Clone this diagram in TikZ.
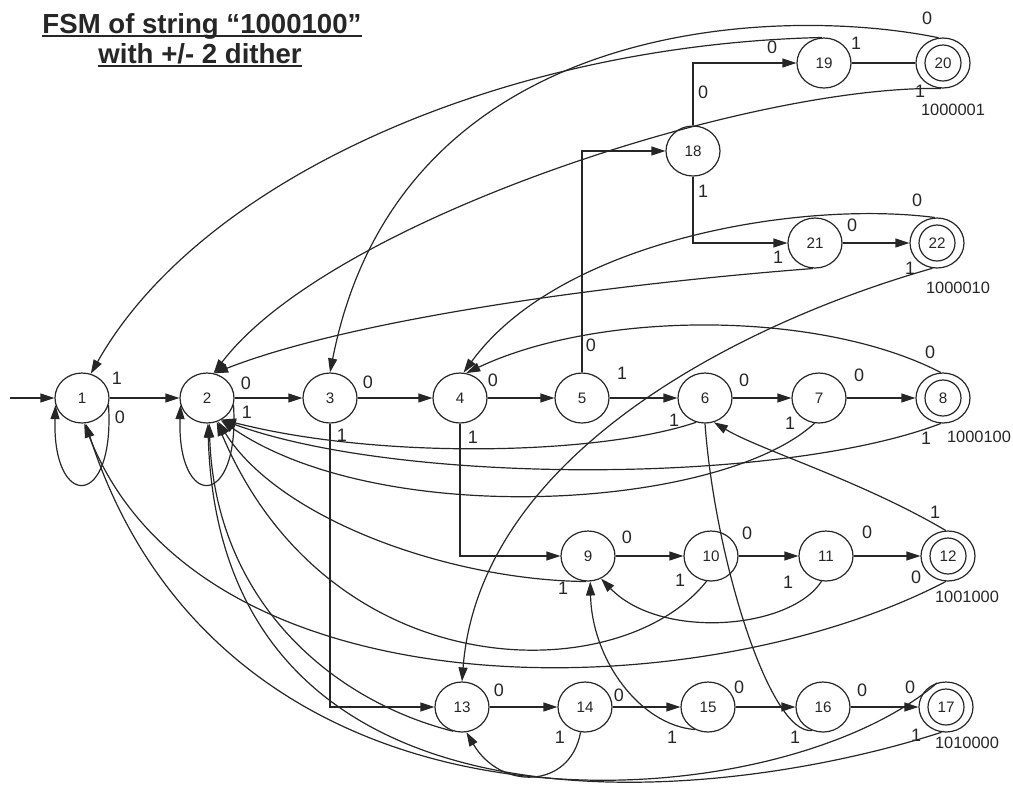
\documentclass[tikz,border=0pt]{standalone}
\usepackage{fontspec}
\setmainfont{Liberation Sans}
\usetikzlibrary{shapes.geometric,arrows.meta}
\definecolor{ink}{HTML}{262626}
\newcommand{\statefont}{\fontsize{7.6}{9}\selectfont}
\newcommand{\edgefont}{\fontsize{9}{11}\selectfont}
\newcommand{\wordfont}{\fontsize{8.2}{10}\selectfont}
\begin{document}
\begin{tikzpicture}[x=0.5pt,y=-0.5pt,line width=0.6pt,color=ink,
  st/.style={draw,ellipse,minimum width=27pt,minimum height=25pt,inner sep=0pt,font=\statefont},
  arr/.style={-{Triangle[length=7pt,width=4.5pt]}},
  lbl/.style={inner sep=0pt,font=\edgefont},
  word/.style={inner sep=0pt,font=\wordfont},
  ttl/.style={inner sep=0pt,font=\bfseries\fontsize{13.8}{16}\selectfont}]
\useasboundingbox (0,0) rectangle (1013,784);

% title
\node[ttl,anchor=base] (t1) at (202,33) {FSM of string “1000100”};
\node[ttl,anchor=base] (t2) at (200,63) {with +/- 2 dither};
\draw[line width=1pt] ([yshift=-1.6pt]t1.base west) -- ([yshift=-1.6pt]t1.base east);
\draw[line width=1pt] ([yshift=-1.6pt]t2.base west) -- ([yshift=-1.6pt]t2.base east);

% states
\node[st] (n1) at (82,398) {1};
\node[st] (n2) at (207,398) {2};
\node[st] (n3) at (330,398) {3};
\node[st] (n4) at (460,398) {4};
\node[st] (n5) at (582,398) {5};
\node[st] (n6) at (705,398) {6};
\node[st] (n7) at (819,398) {7};
\node[st] (n8) at (943,398) {8};
\node[st] (n9) at (588,556) {9};
\node[st] (n10) at (711,556) {10};
\node[st] (n11) at (826,556) {11};
\node[st] (n12) at (948,556) {12};
\node[st] (n13) at (462,707) {13};
\node[st] (n14) at (585,707) {14};
\node[st] (n15) at (708,707) {15};
\node[st] (n16) at (823,707) {16};
\node[st] (n17) at (946,707) {17};
\node[st] (n18) at (693,151) {18};
\node[st] (n19) at (824,63) {19};
\node[st] (n20) at (943,63) {20};
\node[st] (n21) at (815,243) {21};
\node[st] (n22) at (937,243) {22};
% inner rings of the accepting states
\foreach \n in {n8,n12,n17,n20,n22} \draw (\n) circle[radius=9pt];

% start arrow
\coordinate (s0) at (10,398);
\draw[arr] (s0) -- (n1);

% main chain
\draw[arr] (n1) -- (n2);
\draw[arr] (n2) -- (n3);
\draw[arr] (n3) -- (n4);
\draw[arr] (n4) -- (n5);
\draw[arr] (n5) -- (n6);
\draw[arr] (n6) -- (n7);
\draw[arr] (n7) -- (n8);
\draw[arr] (n9) -- (n10);
\draw[arr] (n10) -- (n11);
\draw[arr] (n11) -- (n12);
\draw[arr] (n13) -- (n14);
\draw[arr] (n14) -- (n15);
\draw[arr] (n15) -- (n16);
\draw[arr] (n16) -- (n17);
\draw[arr] (n21) -- (n22);
\draw (n19) -- (n20);

% branches
\draw[arr] (n3.south) |- (n13.west);
\draw[arr] (n4.south) |- (n9.west);
\draw[arr] (n5.north) |- (n18.west);
\draw[arr] (n18.north) |- (n19.west);
\draw[arr] (n18.south) |- (n21.west);

% self loops
\draw[arr] (n1.-15) .. controls (115,510) and (52,510) .. (n1.195);
\draw[arr] (n2.-15) .. controls (240,510) and (177,510) .. (n2.195);

% back edges from the upper branch
\draw[arr] (n19.95) .. controls (500,45) and (200,180) .. (n1.70);
\draw[arr] (n20.100) .. controls (780,5) and (400,15) .. (n3.90);
\draw[arr] (n20.-95) .. controls (750,85) and (330,220) .. (n2.75);
\draw[arr] (n22.95) .. controls (800,200) and (560,240) .. (n4.82);
\draw[arr] (n21.-95) .. controls (600,285) and (350,320) .. (n2.74);
\draw[arr] (n22.-100) .. controls (750,320) and (480,450) .. (n13.90);

% back edges from the main row
\draw[arr] (n8.95) .. controls (820,310) and (600,310) .. (n4.76);
\draw[arr] (n6.-110) .. controls (600,455) and (380,460) .. (n2.-55);
\draw[arr] (n7.-100) .. controls (720,510) and (380,530) .. (n2.-58);
\draw[arr] (n8.-95) .. controls (780,485) and (400,485) .. (n2.-56);

% back edges from the middle and lower rows
\draw[arr] (n12.95) .. controls (860,480) and (760,450) .. (n6.-70);
\draw (n16.-115) .. controls (770,735) and (715,560) .. (n6.-90);
\draw[arr] (n9.-95) .. controls (450,580) and (280,520) .. (n2.-65);
\draw[arr] (n10.-100) .. controls (620,690) and (330,690) .. (n2.-68);
\draw[arr] (n11.-100) .. controls (790,630) and (660,640) .. (n9.-60);
\draw[arr] (n15.-120) .. controls (640,725) and (592,660) .. (n9.-85);
\draw[arr] (n14.-100) .. controls (570,790) and (500,790) .. (n13.-80);
\draw[arr] (n12.-95) .. controls (700,710) and (200,720) .. (n1.-85);
\draw[arr] (n13.-110) .. controls (330,700) and (215,600) .. (n2.-85);
\draw[arr] (n17.110) .. controls (780,820) and (230,870) .. (n1.-82);
\draw[arr] (n17.-100) .. controls (700,810) and (220,850) .. (n2.-88);

% transition labels
\node[lbl] (a1) at (117,378) {1};
\node[lbl] (a2) at (120,417) {0};
\node[lbl] (a3) at (246,383) {0};
\node[lbl] (a4) at (247,412) {1};
\node[lbl] (a5) at (368,382) {0};
\node[lbl] (a6) at (493,380) {0};
\node[lbl] (a7) at (342,435) {1};
\node[lbl] (a8) at (473,437) {1};
\node[lbl] (a9) at (591,345) {0};
\node[lbl] (a10) at (622,373) {1};
\node[lbl] (a11) at (744,380) {0};
\node[lbl] (a12) at (859,375) {0};
\node[lbl] (a13) at (930,352) {0};
\node[lbl] (a14) at (674,420) {1};
\node[lbl] (a15) at (790,423) {1};
\node[lbl] (a16) at (926,438) {1};
\node[lbl] (a17) at (627,537) {0};
\node[lbl] (a18) at (747,533) {0};
\node[lbl] (a19) at (867,532) {0};
\node[lbl] (a20) at (680,580) {1};
\node[lbl] (a21) at (788,582) {1};
\node[lbl] (a22) at (563,588) {1};
\node[lbl] (a23) at (935,512) {1};
\node[lbl] (a24) at (916,577) {0};
\node[lbl] (a25) at (499,690) {0};
\node[lbl] (a26) at (619,695) {0};
\node[lbl] (a27) at (739,687) {0};
\node[lbl] (a28) at (862,690) {0};
\node[lbl] (a29) at (910,687) {0};
\node[lbl] (a30) at (560,737) {1};
\node[lbl] (a31) at (672,737) {1};
\node[lbl] (a32) at (795,737) {1};
\node[lbl] (a33) at (916,735) {1};
\node[lbl] (a34) at (772,47) {0};
\node[lbl] (a35) at (856,43) {1};
\node[lbl] (a36) at (927,18) {0};
\node[lbl] (a37) at (920,91) {1};
\node[lbl] (a38) at (703,92) {0};
\node[lbl] (a39) at (703,191) {1};
\node[lbl] (a40) at (852,225) {0};
\node[lbl] (a41) at (917,200) {0};
\node[lbl] (a42) at (778,257) {1};
\node[lbl] (a43) at (910,268) {1};

% accepted words
\node[word] (w8) at (979,437) {1000100};
\node[word] (w12) at (967,597) {1001000};
\node[word] (w17) at (967,743) {1010000};
\node[word] (w20) at (953,110) {1000001};
\node[word] (w22) at (958,288) {1000010};
\end{tikzpicture}
\end{document}
